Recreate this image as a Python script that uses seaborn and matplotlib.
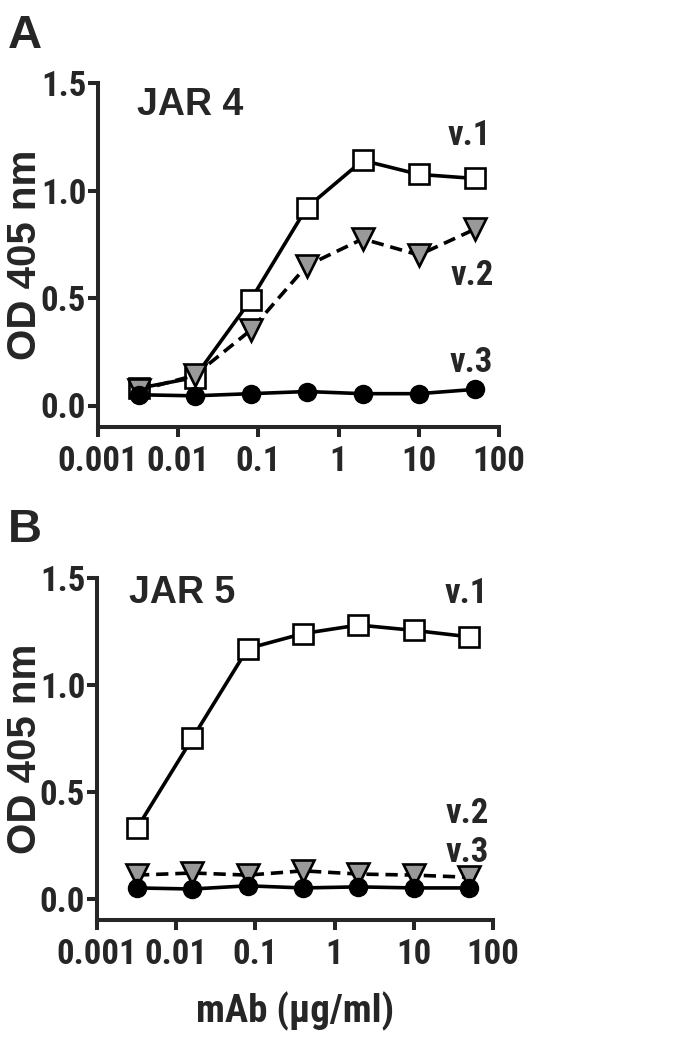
import numpy as np
import pandas as pd
import matplotlib
matplotlib.use("Agg")
import matplotlib.pyplot as plt
import seaborn as sns
import logging
logging.getLogger("matplotlib.font_manager").setLevel(logging.ERROR)

# ---- data ----
conc = [0.0032, 0.016, 0.08, 0.4, 2, 10, 50]
a_v1 = [0.08, 0.13, 0.49, 0.92, 1.14, 1.075, 1.056]
a_v2 = [0.07, 0.14, 0.35, 0.65, 0.775, 0.70, 0.82]
a_v3 = [0.05, 0.045, 0.055, 0.065, 0.055, 0.055, 0.075]
b_v1 = [0.33, 0.75, 1.17, 1.24, 1.28, 1.255, 1.225]
b_v2 = [0.11, 0.12, 0.11, 0.13, 0.115, 0.11, 0.10]
b_v3 = [0.05, 0.045, 0.06, 0.05, 0.055, 0.05, 0.05]
x_ticks = [0.001, 0.01, 0.1, 1, 10, 100]
x_ticklabels = ["0.001", "0.01", "0.1", "1", "10", "100"]
y_ticks = [0.0, 0.5, 1.0, 1.5]
y_ticklabels = ["0.0", "0.5", "1.0", "1.5"]
panel_titles = ["JAR 4", "JAR 5"]
panel_letters = ["A", "B"]
series_names = ["v.1", "v.2", "v.3"]

sns.set_style("ticks")
NARROW = ["Roboto Condensed", "Pragati Narrow", "Liberation Sans", "DejaVu Sans"]
REG = ["Liberation Sans", "DejaVu Sans"]
plt.rcParams["font.family"] = NARROW
plt.rcParams["font.weight"] = "bold"
HEAVY = 900

W, H = 675, 1041
fig = plt.figure(figsize=(W / 100, H / 100), dpi=100)

def fx(px):
    return px / W

def fy(py):
    return 1 - py / H

axes_px = [(98, 499, 83, 427), (97, 493, 578, 920)]
styles = {
    "v.1": dict(marker="s", markersize=15, markerfacecolor="white", markeredgecolor="black",
                markeredgewidth=1.9, linestyle="-"),
    "v.2": dict(marker="v", markersize=16, markerfacecolor="#999999", markeredgecolor="black",
                markeredgewidth=1.9, linestyle=(0, (3.4, 1.9))),
    "v.3": dict(marker="o", markersize=13, markerfacecolor="black", markeredgecolor="black",
                markeredgewidth=1.0, linestyle="-"),
}
data = [[a_v1, a_v2, a_v3], [b_v1, b_v2, b_v3]]

# label positions (pixels): (right x, baseline y)
lab_pos = [
    {"v.1": (491, 145), "v.2": (494, 285), "v.3": (493, 372)},
    {"v.1": (488, 603), "v.2": (489, 823), "v.3": (489, 862)},
]
title_pos = [(137, 115), (129, 603)]
letter_pos = [(8, 48), (8, 542)]

for i in range(2):
    l, r, t, b = axes_px[i]
    ax = fig.add_axes([fx(l), fy(b), fx(r) - fx(l), fy(t) - fy(b)])
    ax.set_xscale("log")
    for name, vals in zip(series_names, data[i]):
        df = pd.DataFrame({"conc": conc, "od": vals})
        sns.lineplot(data=df, x="conc", y="od", ax=ax, color="black", linewidth=2.6,
                     clip_on=False, **styles[name])
    ax.set_xlim(0.001, 100)
    ax.set_ylim(-0.1, 1.5)
    ax.set_xticks(x_ticks)
    ax.set_xticklabels(x_ticklabels)
    ax.xaxis.set_minor_locator(matplotlib.ticker.NullLocator())
    ax.set_yticks(y_ticks)
    ax.set_yticklabels(y_ticklabels)
    for s in ["top", "right"]:
        ax.spines[s].set_visible(False)
    for s in ["left", "bottom"]:
        ax.spines[s].set_linewidth(2.9)
    ax.tick_params(axis="both", width=2.9, length=7, labelsize=25)
    ax.tick_params(axis="y", pad=1.5)
    ax.tick_params(axis="x", pad=6)
    for lab in ax.get_xticklabels() + ax.get_yticklabels():
        lab.set_fontweight(HEAVY)
        lab.set_family(NARROW)
    ax.set_xlabel("")
    ax.set_ylabel("OD 405 nm", fontsize=29, fontweight="bold", family=REG, va="center")
    ax.yaxis.set_label_coords((25 - l) / (r - l), 0.5)
    for name in series_names:
        px, py = lab_pos[i][name]
        fig.text(fx(px), fy(py), name, ha="right", va="baseline", fontsize=25,
                 fontweight=HEAVY, family=NARROW)
    tx, ty = title_pos[i]
    fig.text(fx(tx), fy(ty), panel_titles[i], ha="left", va="baseline", fontsize=27,
             fontweight="bold", family=REG)
    lx, ly = letter_pos[i]
    fig.text(fx(lx), fy(ly), panel_letters[i], ha="left", va="baseline", fontsize=34,
             fontweight="bold", family=REG)
    if i == 1:
        ax.set_xlabel("mAb (µg/ml)", fontsize=28, fontweight=HEAVY, family=NARROW, labelpad=15)

fig.savefig("out.png", dpi=100, facecolor="white")
